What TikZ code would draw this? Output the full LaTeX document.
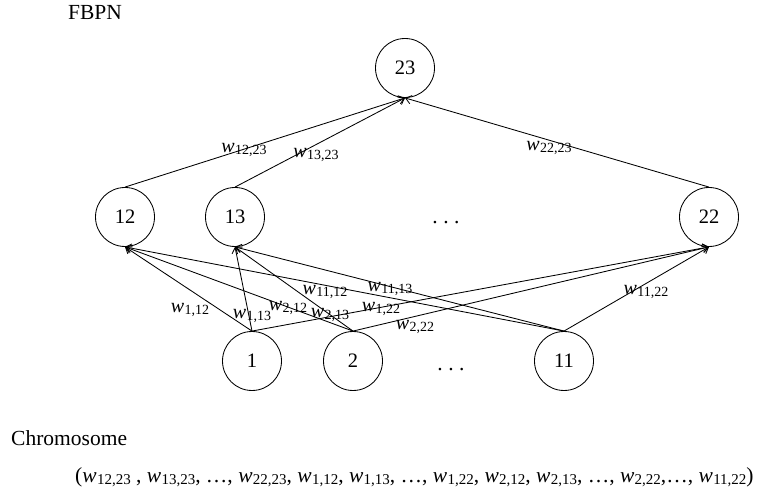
\documentclass[tikz,border=0pt]{standalone}
\usepackage{fontspec}
\setmainfont{Liberation Serif}
\usetikzlibrary{arrows.meta}

% weight symbol w with a two-index subscript
\newcommand{\wl}[1]{\textit{w}\kern0.3pt\raisebox{-0.28ex}{\fontsize{14}{14}\selectfont #1}}
\newcommand{\wlbig}[1]{\textit{w}\kern0.3pt\raisebox{-0.28ex}{\fontsize{15}{15}\selectfont #1}}
\newcommand{\gapdots}{.\hspace{5.5pt}.\hspace{5.5pt}.}

\begin{document}
\begin{tikzpicture}[x=1pt,y=-1pt,
  neuron/.style={circle,draw,line width=0.85pt,minimum size=59pt,inner sep=0pt,
                 font=\fontsize{20.5}{20.5}\selectfont},
  link/.style={line width=0.85pt,-{Straight Barb[length=5.5pt,width=8.5pt]}},
  wlabel/.style={inner sep=0pt,font=\fontsize{20}{20}\selectfont},
  plain/.style={inner sep=0pt,font=\fontsize{21.5}{21.5}\selectfont}]
\useasboundingbox (0,0) rectangle (763,494);

% output layer
\node[neuron] (n23) at (405,68) {23};
% hidden layer
\node[neuron] (n12) at (125,217) {12};
\node[neuron] (n13) at (235,217) {13};
\node[neuron] (n22) at (709,217) {22};
\node[plain] (hdots) at (446,223) {\gapdots};
% input layer
\node[neuron] (n1) at (252,361) {1};
\node[neuron] (n2) at (353,361) {2};
\node[neuron] (n11) at (564,361) {11};
\node[plain] (idots) at (451,370) {\gapdots};

% hidden -> output
\draw[link] (n12.north) -- (n23.south);
\draw[link] (n13.north) -- (n23.south);
\draw[link] (n22.north) -- (n23.south);
% input -> hidden
\foreach \i in {1,2,11}{
  \foreach \h in {12,13,22}{
    \draw[link] (n\i.north) -- (n\h.south);
  }
}

% weight labels
\node[wlabel] (l1223) at (244,150) {\wl{12,23}};
\node[wlabel] (l1323) at (316,155) {\wl{13,23}};
\node[wlabel] (l2223) at (549,148) {\wl{22,23}};
\node[wlabel] (l112) at (190,310) {\wl{1,12}};
\node[wlabel] (l113) at (252,316) {\wl{1,13}};
\node[wlabel] (l212) at (288,308) {\wl{2,12}};
\node[wlabel] (l213) at (330,315) {\wl{2,13}};
\node[wlabel] (l1112) at (325,292) {\wl{11,12}};
\node[wlabel] (l1113) at (390,289) {\wl{11,13}};
\node[wlabel] (l122) at (381,309) {\wl{1,22}};
\node[wlabel] (l222) at (415,327) {\wl{2,22}};
\node[wlabel] (l1122) at (646,292) {\wl{11,22}};

% captions
\node[plain,anchor=base west] (title) at (68,20) {FBPN};
\node[plain,anchor=base west] (chrom) at (11,445) {Chromosome};
\node[plain,anchor=base west] (genes) at (75,482)
  {(\wlbig{12,23} , \wlbig{13,23}, \dots, \wlbig{22,23}, \wlbig{1,12}, \wlbig{1,13}, \dots, \wlbig{1,22}, \wlbig{2,12}, \wlbig{2,13}, \dots, \wlbig{2,22},\dots, \wlbig{11,22})};
\end{tikzpicture}
\end{document}
